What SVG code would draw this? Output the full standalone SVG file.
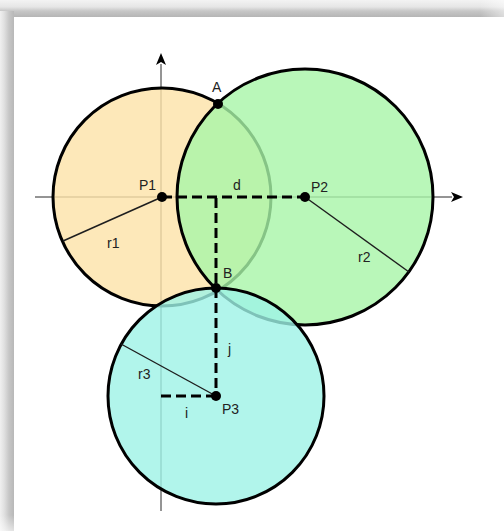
<svg xmlns="http://www.w3.org/2000/svg" width="504" height="531" viewBox="0 0 504 531">
<style>
.circ{stroke:#000;stroke-width:3;fill-opacity:0.8}
.axis{stroke:#2a2a2a;stroke-width:1;fill:none}
.rad{stroke:#1e1e1e;stroke-width:1.4;fill:none}
.dash{stroke:#000;stroke-width:3;stroke-dasharray:10 5;fill:none}
.dot{fill:#000}
.lbl{font-family:"Liberation Sans",Arial,sans-serif;font-size:14px;fill:#222}
</style>
<defs>
<linearGradient id="gTop" x1="0" y1="0" x2="0" y2="1">
<stop offset="0" stop-color="#f3f3f3"/>
<stop offset="0.4" stop-color="#e6e6e6"/>
<stop offset="0.65" stop-color="#c6c6c6"/>
<stop offset="1" stop-color="#b5b5b5"/>
</linearGradient>
<linearGradient id="gLeft" x1="0" y1="0" x2="1" y2="0">
<stop offset="0" stop-color="#f0f0f0"/>
<stop offset="0.3" stop-color="#e0e0e0"/>
<stop offset="0.65" stop-color="#c6c6c6"/>
<stop offset="1" stop-color="#b8b8b8"/>
</linearGradient>
<linearGradient id="gFadeR" x1="0" y1="0" x2="1" y2="0">
<stop offset="0" stop-color="#fff" stop-opacity="0"/>
<stop offset="1" stop-color="#fff" stop-opacity="0.5"/>
</linearGradient>
<linearGradient id="gFadeB" x1="0" y1="0" x2="0" y2="1">
<stop offset="0" stop-color="#fff" stop-opacity="0"/>
<stop offset="1" stop-color="#fff" stop-opacity="0.6"/>
</linearGradient>
<marker id="arr" viewBox="0 0 12 10" refX="1" refY="5" markerWidth="13" markerHeight="10" markerUnits="userSpaceOnUse" orient="auto">
<path d="M0,0 L12,5 L0,10 L3,5 Z" fill="#000"/>
</marker>
</defs>
<g id="frame">
<rect x="0" y="0" width="504" height="531" fill="#fff"/>
<rect x="0" y="0" width="504" height="17" fill="url(#gTop)"/>
<rect x="0" y="11" width="14" height="520" fill="url(#gLeft)"/>
<rect x="480" y="0" width="24" height="17" fill="url(#gFadeR)"/>
<rect x="0" y="515" width="14" height="16" fill="url(#gFadeB)"/>
</g>
<g id="axes">
<line class="axis" x1="35" y1="197" x2="452" y2="197" marker-end="url(#arr)"/>
<line class="axis" x1="161" y1="511" x2="161" y2="64" marker-end="url(#arr)"/>
</g>
<g id="circle1">
<circle class="circ" cx="162" cy="197" r="109" fill="rgb(252,226,167)"/>
<line class="rad" x1="162" y1="197" x2="63" y2="241"/>
<text class="lbl" x="107" y="248">r1</text>
</g>
<g id="circle2">
<circle class="circ" cx="305" cy="197" r="128" fill="rgb(167,245,167)"/>
<line class="rad" x1="305" y1="197" x2="409" y2="272"/>
<text class="lbl" x="358" y="262">r2</text>
</g>
<g id="circle3">
<circle class="circ" cx="216" cy="396" r="108" fill="rgb(158,242,230)"/>
<line class="rad" x1="216" y1="396" x2="121" y2="344"/>
<text class="lbl" x="138" y="379">r3</text>
</g>
<g id="connectors">
<line class="dash" x1="162" y1="197" x2="305" y2="197"/>
<line class="dash" x1="216" y1="198" x2="216" y2="396"/>
<line class="dash" x1="161" y1="396" x2="216" y2="396"/>
<text class="lbl" x="233" y="190">d</text>
<text class="lbl" x="228" y="354">j</text>
<text class="lbl" x="185" y="418">i</text>
</g>
<g id="P1">
<circle class="dot" cx="162" cy="197" r="5"/>
<text class="lbl" x="139" y="190">P1</text>
</g>
<g id="P2">
<circle class="dot" cx="305" cy="197" r="5"/>
<text class="lbl" x="311" y="192">P2</text>
</g>
<g id="P3">
<circle class="dot" cx="216" cy="396" r="5"/>
<text class="lbl" x="222" y="414">P3</text>
</g>
<g id="A">
<circle class="dot" cx="218" cy="104" r="5"/>
<text class="lbl" x="212" y="92">A</text>
</g>
<g id="B">
<circle class="dot" cx="216" cy="288" r="5"/>
<text class="lbl" x="223" y="278">B</text>
</g>
</svg>
